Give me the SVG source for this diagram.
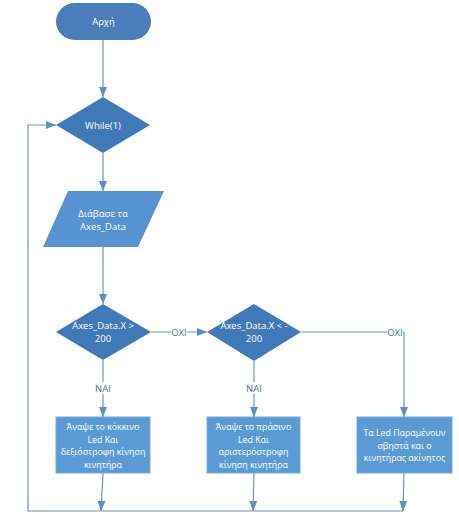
<svg xmlns="http://www.w3.org/2000/svg" width="459" height="524" viewBox="0 0 459 524">
<style>
.term{fill:#4a7ebb;}
.dia{fill:#4079b8;}
.io{fill:#5593d2;}
.box{fill:#5b9bd5;stroke:#72aade;stroke-width:1;}
.t{font-family:"Open Sans","Noto Sans",sans-serif;font-size:9.5px;fill:#ffffff;text-anchor:middle;}
.bt{font-family:"Open Sans","Noto Sans",sans-serif;font-size:8.8px;fill:#ffffff;text-anchor:middle;}
.c{fill:none;stroke:#6a93c6;stroke-width:1.2;}
.lblbg{fill:#ffffff;}
.lbl{font-family:"Open Sans","Noto Sans",sans-serif;font-size:9.5px;fill:#4a6f9e;text-anchor:middle;}
</style>
<defs>
<marker id="arr" markerUnits="userSpaceOnUse" markerWidth="10" markerHeight="10" viewBox="0 0 10 10" refX="10" refY="5" orient="auto">
<path d="M0,1 L10,5 L0,9 Z" fill="#5b8fcc"/>
</marker>
</defs>
<rect width="459" height="524" fill="#ffffff"/>
<g id="connectors">
<path class="c" d="M103,40 V97" marker-end="url(#arr)"/>
<path class="c" d="M103,153 V191" marker-end="url(#arr)"/>
<path class="c" d="M103,247 V304" marker-end="url(#arr)"/>
<path class="c" d="M151,332 H207" marker-end="url(#arr)"/>
<path class="c" d="M301,332 H404 V417" marker-end="url(#arr)"/>
<path class="c" d="M103,360 V417" marker-end="url(#arr)"/>
<path class="c" d="M254,361 V417" marker-end="url(#arr)"/>
<path class="c" d="M103,473 L101,511" marker-end="url(#arr)"/>
<path class="c" d="M254,473 L253,511" marker-end="url(#arr)"/>
<path class="c" d="M404,473 L403,511" marker-end="url(#arr)"/>
<path class="c" d="M403,511 H28 V125 H56" marker-end="url(#arr)"/>
<rect class="lblbg" x="171" y="326" width="16" height="12"/>
<text class="lbl" x="179" y="335.5">ΟΧΙ</text>
<rect class="lblbg" x="387" y="326" width="16" height="12"/>
<text class="lbl" x="395" y="335.5">ΟΧΙ</text>
<rect class="lblbg" x="95" y="382" width="16" height="12"/>
<text class="lbl" x="103" y="391.5">ΝΑΙ</text>
<rect class="lblbg" x="246" y="382" width="16" height="12"/>
<text class="lbl" x="254" y="391.5">ΝΑΙ</text>
</g>
<g id="start">
<rect class="term" x="56" y="3" width="95" height="37" rx="18.5"/>
<text class="t" x="103.5" y="25">Αρχή</text>
</g>
<g id="while">
<polygon class="dia" points="103,97 150,125 103,153 56,125"/>
<text class="t" x="103" y="129">While(1)</text>
</g>
<g id="read">
<polygon class="io" points="68,191 164,191 138,247 43,247"/>
<text class="t" x="103" y="217">Διάβασε τα</text>
<text class="t" x="103" y="230">Axes_Data</text>
</g>
<g id="cond1">
<polygon class="dia" points="103,304 151,332 103,360 56,332"/>
<text class="t" x="103" y="329">Axes_Data.X &gt;</text>
<text class="t" x="103" y="342">200</text>
</g>
<g id="cond2">
<polygon class="dia" points="254,304 301,332 254,361 207,332"/>
<text class="t" x="254" y="329">Axes_Data.X &lt; -</text>
<text class="t" x="254" y="342">200</text>
</g>
<g id="red">
<rect class="box" x="56" y="417" width="94" height="56"/>
<text class="bt" x="103" y="430">Άναψε το κόκκινο</text>
<text class="bt" x="103" y="442.5">Led Και</text>
<text class="bt" x="103" y="455">δεξιόστροφη κίνηση</text>
<text class="bt" x="103" y="467.5">κινητήρα</text>
</g>
<g id="green">
<rect class="box" x="207" y="417" width="93" height="56"/>
<text class="bt" x="253.5" y="430">Άναψε το πράσινο</text>
<text class="bt" x="253.5" y="442.5">Led Και</text>
<text class="bt" x="253.5" y="455">αριστερόστροφη</text>
<text class="bt" x="253.5" y="467.5">κίνηση κινητήρα</text>
</g>
<g id="off">
<rect class="box" x="357" y="417" width="95" height="56"/>
<text class="bt" x="404.5" y="436">Τα Led Παραμένουν</text>
<text class="bt" x="404.5" y="448.5">σβηστά και ο</text>
<text class="bt" x="404.5" y="461">κινητήρας ακίνητος</text>
</g>
</svg>
